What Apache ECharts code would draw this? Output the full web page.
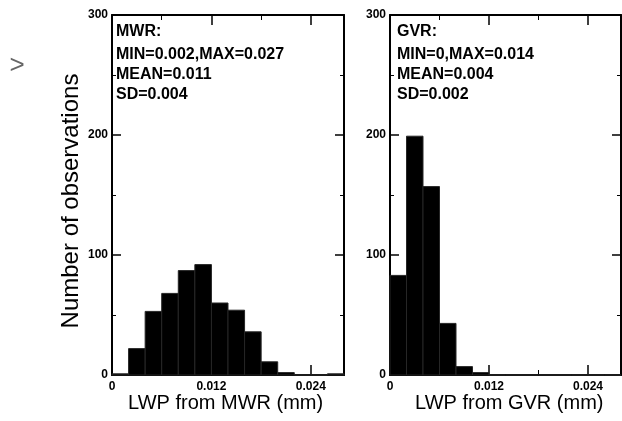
<!DOCTYPE html>
<html><head><meta charset="utf-8">
<script src="https://cdn.jsdelivr.net/npm/echarts@6/dist/echarts.min.js"></script>
<style>html,body{margin:0;padding:0;background:#fff}#c{width:622px;height:421px}</style>
</head><body><div id="c"></div>
<script>
// Histogram bins (mm), bin width 0.002
const binStarts = [0, 0.002, 0.004, 0.006, 0.008, 0.010, 0.012, 0.014, 0.016, 0.018, 0.020, 0.022, 0.024, 0.026];
const binWidth = 0.002;
const mwrCounts = [1, 22, 53, 68, 87, 92, 60, 54, 36, 11, 2, 0, 0, 1];
const gvrCounts = [83, 199, 157, 43, 7, 2, 0, 0, 0, 0, 0, 0, 0, 0];
const xTickLabels = ['0', '0.012', '0.024'];
const yTickLabels = ['0', '100', '200', '300'];
const mwrText = ['MWR:', 'MIN=0.002,MAX=0.027', 'MEAN=0.011', 'SD=0.004'];
const gvrText = ['GVR:', 'MIN=0,MAX=0.014', 'MEAN=0.004', 'SD=0.002'];
const xTitles = ['LWP from MWR (mm)', 'LWP from GVR (mm)'];
const yTitle = 'Number of observations';

const FONT = 'Liberation Sans, Arial, sans-serif';
const chart = echarts.init(document.getElementById('c'));

function xFmt(v){
  const k = Math.round(v*1000)/1000;
  const idx = [0,0.012,0.024].indexOf(k);
  return idx >= 0 ? xTickLabels[idx] : '';
}
function yFmt(v){
  const idx = [0,100,200,300].indexOf(Math.round(v));
  return idx >= 0 ? yTickLabels[idx] : '';
}

function makeX(gridIndex, pos, showLabel){
  return {
    type:'value', gridIndex, position:pos, min:0, max:0.028, interval:0.012,
    axisLine:{show:true, onZero:false, lineStyle:{color:'#000', width:2}},
    axisTick:{show:true, inside:true, length:10, lineStyle:{color:'#000', width:1.5}},
    minorTick:{show:true, splitNumber:2, length:5, lineStyle:{color:'#000', width:1}},
    splitLine:{show:false},
    axisLabel:{show:showLabel, formatter:xFmt, color:'#000', fontFamily:FONT, fontWeight:'bold', fontSize:12, margin:6, showMaxLabel:false}
  };
}
function makeY(gridIndex, pos, showLabel){
  return {
    type:'value', gridIndex, position:pos, min:0, max:300, interval:100,
    axisLine:{show:true, onZero:false, lineStyle:{color:'#000', width:2}},
    axisTick:{show:true, inside:true, length:9, lineStyle:{color:'#000', width:1.5}},
    minorTick:{show:true, splitNumber:2, length:4, lineStyle:{color:'#000', width:1}},
    splitLine:{show:false},
    axisLabel:{show:showLabel, formatter:yFmt, color:'#000', fontFamily:FONT, fontWeight:'bold', fontSize:12, margin:4}
  };
}

function histSeries(counts, xi, yi){
  return {
    type:'custom', coordinateSystem:'cartesian2d', xAxisIndex:xi, yAxisIndex:yi,
    data: binStarts.map((s,i)=>[s, s+binWidth, counts[i]]),
    encode:{x:[0,1], y:2},
    renderItem:function(params, api){
      const p0 = api.coord([api.value(0), 0]);
      const p1 = api.coord([api.value(1), api.value(2)]);
      return {
        type:'rect',
        shape:{x:p0[0], y:p1[1], width:p1[0]-p0[0], height:p0[1]-p1[1]},
        style:{fill:'#000', stroke:'#262626', lineWidth:1}
      };
    },
    z:1
  };
}

function annot(lines, x){
  const ys = [33, 56, 76, 96];
  return lines.map((t,i)=>({
    type:'text', left:x, top:ys[i]-9,
    style:{text:t, fill:'#000', font:'bold 16px '+FONT}
  }));
}

const option = {
  animation:false,
  backgroundColor:'#fff',
  grid:[
    {left:112, top:15, width:232, height:360, show:false},
    {left:390, top:15, width:231, height:360, show:false}
  ],
  xAxis:[makeX(0,'bottom',true), makeX(0,'top',false), makeX(1,'bottom',true), makeX(1,'top',false)],
  yAxis:[makeY(0,'left',true), makeY(0,'right',false), makeY(1,'left',true), makeY(1,'right',false)],
  series:[histSeries(mwrCounts,0,0), histSeries(gvrCounts,2,2)],
  graphic:[].concat(
    annot(mwrText, 116),
    annot(gvrText, 397),
    [
      {type:'text', left:128, top:393, style:{text:xTitles[0], fill:'#000', font:'20px '+FONT}},
      {type:'text', left:415, top:393, style:{text:xTitles[1], fill:'#000', font:'20px '+FONT}},
      {type:'text', x:71, y:201, rotation:Math.PI/2,
        style:{text:yTitle, fill:'#000', font:'24px '+FONT, align:'center', verticalAlign:'middle'}},
      {type:'text', x:17, y:66, style:{text:'>', fill:'#666', font:'26px '+FONT, align:'center', verticalAlign:'middle'}}
    ]
  )
};
chart.setOption(option);
</script>
</body></html>
